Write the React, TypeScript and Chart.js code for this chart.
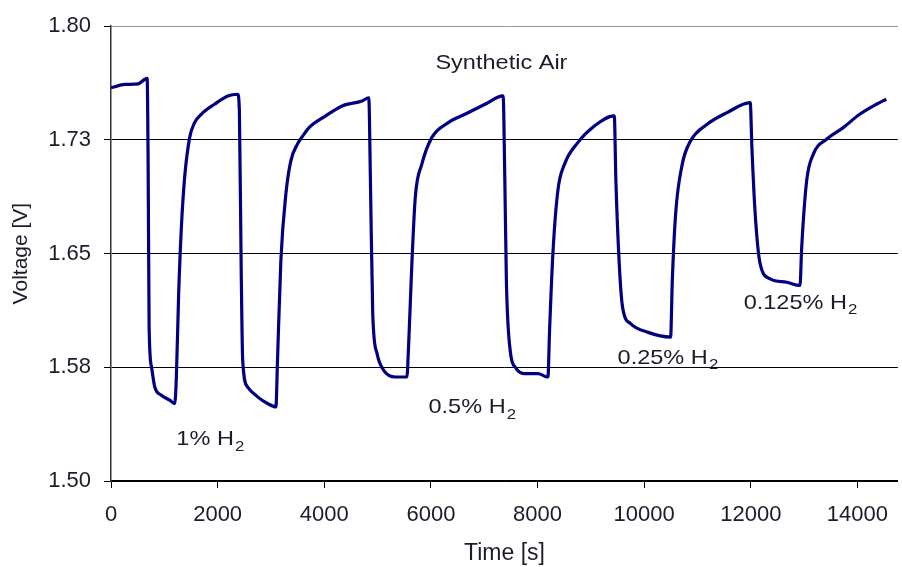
import React, { useEffect, useRef } from "react";
import { Chart, registerables } from "chart.js";

Chart.register(...registerables);

// Time [s]
const timeSeconds = [
  0, 261, 510, 635, 678, 696, 715, 760, 821, 946, 1101, 1195,
  1226, 1269, 1320, 1381, 1475, 1568, 1693, 1941, 2190, 2376,
  2408, 2440, 2470, 2563, 2750, 2936, 3093,
  3123, 3186, 3280, 3373, 3496, 3621, 3715, 4026, 4336, 4710, 4835,
  4866, 4909, 4990, 5115, 5333, 5550,
  5581, 5643, 5707, 5830, 6017, 6328, 6640, 7013, 7355,
  7387, 7416, 7480, 7603, 7760, 8008, 8195,
  8226, 8288, 8381, 8507, 8755, 9066, 9440,
  9470, 9533, 9595, 9750, 10061, 10496,
  10528, 10590, 10715, 10870, 11181, 11555, 11990,
  12021, 12083, 12176, 12363, 12675, 12923,
  12955, 13048, 13173, 13421, 13733, 14043, 14355, 14541,
];

// Voltage [V]
const voltage = [
  1.7594, 1.7616, 1.762, 1.765, 1.7656, 1.711, 1.6015, 1.5752, 1.562, 1.5566, 1.5533, 1.5511,
  1.5686, 1.6235, 1.6673, 1.7002, 1.7265, 1.7364, 1.7419, 1.7485, 1.754, 1.7551,
  1.744, 1.6454, 1.5796, 1.562, 1.5555, 1.5511, 1.5489,
  1.5796, 1.6454, 1.6893, 1.7112, 1.7222, 1.7288, 1.7331, 1.7408, 1.7474, 1.7507, 1.7528,
  1.698, 1.6105, 1.584, 1.573, 1.5686, 1.5686,
  1.5884, 1.6432, 1.687, 1.709, 1.7265, 1.7364, 1.7419, 1.7485, 1.754,
  1.698, 1.6322, 1.5884, 1.5741, 1.5708, 1.5708, 1.5686,
  1.5993, 1.6498, 1.6914, 1.709, 1.7232, 1.7342, 1.7408,
  1.698, 1.6432, 1.6147, 1.6037, 1.5982, 1.5949,
  1.6322, 1.6761, 1.709, 1.7243, 1.7353, 1.743, 1.7496,
  1.72, 1.6761, 1.6432, 1.6334, 1.6311, 1.629,
  1.6541, 1.698, 1.7156, 1.7254, 1.7331, 1.7419, 1.7485, 1.7518,
];

const xTickValues = [0, 2000, 4000, 6000, 8000, 10000, 12000, 14000];
const yTickValues = [1.5, 1.575, 1.65, 1.725, 1.8];
const yTickLabels = ["1.50", "1.58", "1.65", "1.73", "1.80"];

const annotationTexts = ["Synthetic Air", "1% H", "0.5% H", "0.25% H", "0.125% H"];
const annotationSubs = ["", "2", "2", "2", "2"];
const annotationTime = [6085, 1226, 5955, 9501, 11866];
const annotationVolt = [1.7757, 1.5273, 1.5484, 1.5813, 1.6174];

const FONT = '"Liberation Sans", Arial, sans-serif';
const TEXT_COLOR = "#1c1c2a";

const annotationPlugin = {
  id: "textAnnotations",
  afterDatasetsDraw(chart: any) {
    const ctx = chart.ctx;
    const xs = chart.scales.x;
    const ys = chart.scales.y;
    for (let i = 0; i < annotationTexts.length; i++) {
      const px = xs.getPixelForValue(annotationTime[i]);
      const py = ys.getPixelForValue(annotationVolt[i]);
      ctx.save();
      ctx.fillStyle = TEXT_COLOR;
      ctx.textBaseline = "middle";
      ctx.textAlign = "left";
      ctx.translate(px, py);
      ctx.scale(1.12, 1);
      ctx.font = `21px ${FONT}`;
      ctx.fillText(annotationTexts[i], 0, 0);
      if (annotationSubs[i]) {
        const w = ctx.measureText(annotationTexts[i]).width;
        ctx.font = `15px ${FONT}`;
        ctx.fillText(annotationSubs[i], w + 1, 7);
      }
      ctx.restore();
    }
  },
};

export default function App() {
  const canvasRef = useRef<HTMLCanvasElement | null>(null);

  useEffect(() => {
    if (!canvasRef.current) return;
    const points = timeSeconds.map((t, i) => ({ x: t, y: voltage[i] }));
    const chart = new Chart(canvasRef.current, {
      type: "line",
      data: {
        datasets: [
          {
            data: points,
            borderColor: "#000080",
            borderWidth: 3.2,
            pointRadius: 0,
            fill: false,
            cubicInterpolationMode: "monotone",
          },
        ],
      },
      options: {
        responsive: false,
        animation: false,
        devicePixelRatio: 1,
        layout: { padding: { top: 25, right: 0, left: 0, bottom: 0 } },
        plugins: {
          legend: { display: false },
          tooltip: { enabled: false },
        },
        scales: {
          x: {
            type: "linear",
            min: 0,
            max: 14760,
            afterBuildTicks: (scale: any) => {
              scale.ticks = xTickValues.map((v) => ({ value: v }));
            },
            afterFit: (scale: any) => {
              scale.height = 86;
            },
            ticks: {
              font: { family: FONT, size: 22 },
              color: TEXT_COLOR,
              padding: 14,
              maxRotation: 0,
              callback: (v: any) => String(v),
            },
            grid: {
              drawOnChartArea: false,
              drawTicks: true,
              tickLength: 7,
              tickColor: "#000",
            },
            border: { color: "#000", width: 1.5 },
            title: {
              display: true,
              text: "Time [s]",
              font: { family: FONT, size: 23 },
              color: TEXT_COLOR,
              padding: { top: 1, bottom: 0 },
            },
          },
          y: {
            type: "linear",
            min: 1.5,
            max: 1.8,
            afterBuildTicks: (scale: any) => {
              scale.ticks = yTickValues.map((v) => ({ value: v }));
            },
            afterFit: (scale: any) => {
              scale.width = 111;
            },
            ticks: {
              font: { family: FONT, size: 22 },
              color: TEXT_COLOR,
              padding: 13,
              callback: (_v: any, idx: number) => yTickLabels[idx],
            },
            grid: {
              color: (c: any) => (c.tick && Math.abs(c.tick.value - 1.8) < 1e-6 ? "#9a9a9a" : "#000"),
              lineWidth: 1,
              drawTicks: true,
              tickLength: 7,
              tickColor: "#000",
            },
            border: { color: "#333", width: 1.5 },
            title: {
              display: true,
              text: "Voltage [V]",
              font: { family: FONT, size: 21 },
              color: TEXT_COLOR,
              padding: { top: 9, bottom: 0 },
            },
          },
        },
      },
      plugins: [annotationPlugin],
    } as any);
    return () => chart.destroy();
  }, []);

  return (
    <div style={{ position: "fixed", left: 0, top: 0, width: 902, height: 567, background: "#fff" }}>
      <canvas ref={canvasRef} width={902} height={567} />
    </div>
  );
}
